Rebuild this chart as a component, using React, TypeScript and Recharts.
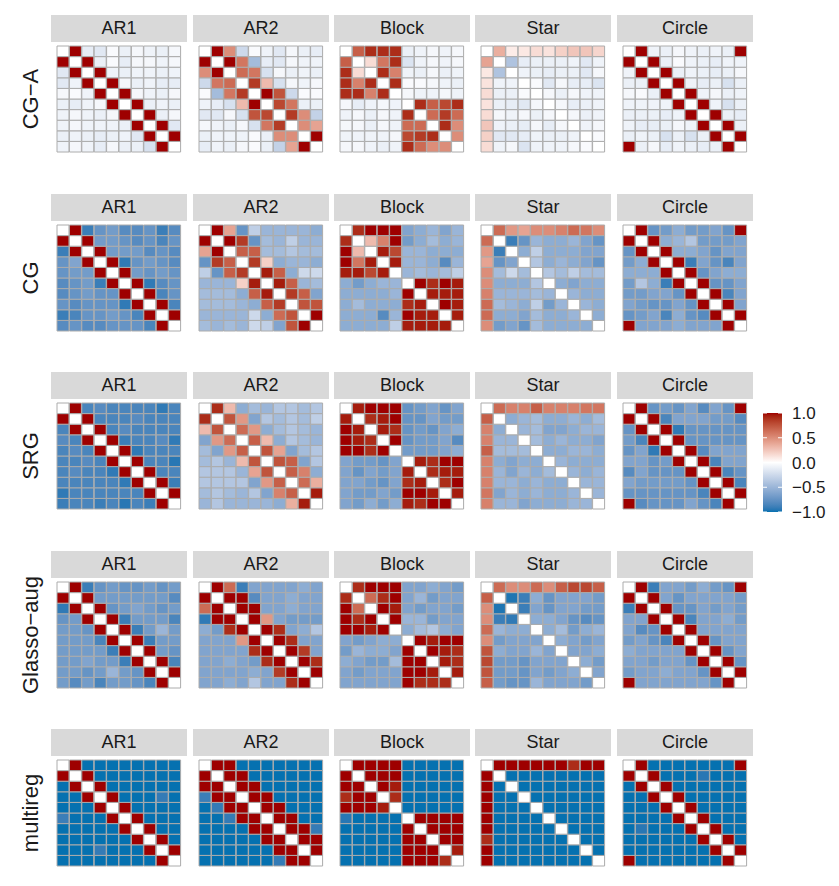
import React from "react";
import { BarChart, Bar, Cell, XAxis, YAxis, ReferenceLine } from "recharts";

// ---------- labels ----------
const methods = ["CG\u2212A", "CG", "SRG", "Glasso\u2212aug", "multireg"];
const structures = ["AR1", "AR2", "Block", "Star", "Circle"];
const cellCols = ["1", "2", "3", "4", "5", "6", "7", "8", "9", "10"];
const legendTicks = [1, 0.5, 0, -0.5, -1];

// ---------- CG-A ----------
const cgaAR1 = [
  [0, 1, -.12, -.15, -.03, -.1, -.05, -.08, -.1, -.05],
  [1, 0, 1, -.1, -.03, -.12, -.05, -.05, -.08, -.05],
  [-.15, 1, 0, 1, -.08, -.1, -.08, -.08, -.1, -.08],
  [-.15, -.08, 1, 0, 1, -.05, -.1, -.08, -.12, -.12],
  [-.05, -.03, -.08, 1, 0, 1, -.05, -.08, -.1, -.05],
  [-.1, -.12, -.08, -.05, 1, 0, 1, -.1, -.08, -.1],
  [-.08, -.05, -.08, -.1, -.05, 1, 0, 1, -.1, -.05],
  [-.08, -.05, -.08, -.08, -.08, -.1, 1, 0, 1, -.15],
  [-.1, -.08, -.1, -.12, -.1, -.08, -.15, 1, 0, 1],
  [-.08, -.05, -.08, -.12, -.05, -.1, -.1, -.2, 1, 0],
];
const cgaAR2 = [
  [0, 1, .5, -.25, -.03, -.08, -.15, -.05, -.1, -.12],
  [1, 0, 1, .6, -.45, -.12, -.15, -.05, -.08, -.08],
  [.5, 1, 0, .65, .6, -.2, -.05, -.1, -.08, -.1],
  [-.25, .6, .65, 0, .85, .3, -.2, -.05, -.08, -.05],
  [-.03, -.45, .6, .85, 0, 1, .75, -.25, -.03, -.03],
  [-.08, -.12, -.2, .3, 1, 0, .8, .6, -.1, -.1],
  [-.15, -.15, -.05, -.2, .75, .8, 0, .85, .5, -.3],
  [-.05, -.08, -.1, -.05, -.2, .6, .85, 0, .5, .4],
  [-.1, -.08, -.08, -.08, -.03, -.1, .5, .5, 0, 1],
  [-.12, -.08, -.1, -.05, -.03, -.1, -.3, .4, 1, 0],
];
const cgaBlock = [
  [0, .7, .9, .9, .9, -.1, -.08, -.05, -.08, -.05],
  [.7, 0, .15, .6, .9, -.18, -.08, -.05, -.08, -.05],
  [.9, .15, 0, .9, .55, -.08, -.1, -.05, -.1, -.08],
  [.9, .55, .9, 0, .9, -.03, -.03, -.05, -.08, -.1],
  [.9, .9, .55, .9, 0, -.05, -.08, -.08, -.05, -.08],
  [-.05, -.12, -.08, -.05, -.08, 0, .9, .7, .8, .9],
  [-.08, -.05, -.1, -.05, -.08, .9, 0, .65, .85, .65],
  [-.05, -.05, -.1, -.05, -.08, .65, .65, 0, .9, .5],
  [-.08, -.08, -.08, -.08, -.05, .8, .85, .9, 0, .5],
  [-.05, -.05, -.08, -.1, -.08, .9, .65, .5, .5, 0],
];
const cgaStar = [
  [0, .35, .08, .1, .15, .12, .2, .25, .25, .18],
  [.4, 0, -.4, -.12, -.1, -.1, -.1, -.08, -.15, -.08],
  [.1, -.4, 0, -.08, -.1, -.12, -.1, -.1, -.15, -.05],
  [.12, -.08, -.08, 0, -.03, -.15, -.05, -.12, -.12, -.18],
  [.15, -.1, -.1, -.03, 0, -.05, -.1, -.05, -.08, -.08],
  [.12, -.1, -.12, -.15, -.05, 0, -.05, -.12, -.1, -.08],
  [.15, -.05, -.08, -.05, -.1, -.05, 0, -.05, -.1, -.08],
  [.25, -.08, -.1, -.12, -.05, -.12, -.05, 0, -.08, -.05],
  [.2, -.15, -.15, -.12, -.08, -.1, -.1, -.08, 0, -.03],
  [.15, -.08, -.05, -.18, -.08, -.08, -.08, -.05, -.03, 0],
];
const cgaCircle = [
  [0, 1, -.08, -.1, -.05, -.08, -.1, -.08, -.1, 1],
  [1, 0, 1, -.1, -.03, -.08, -.1, -.12, -.08, -.08],
  [-.08, 1, 0, 1, -.1, -.08, -.1, -.12, -.1, -.05],
  [-.1, -.1, 1, 0, 1, -.08, -.12, -.1, -.2, -.1],
  [-.05, -.03, -.1, 1, 0, 1, -.08, -.05, -.1, -.08],
  [-.08, -.08, -.08, -.08, 1, 0, 1, -.08, -.2, -.1],
  [-.1, -.1, -.1, -.12, -.08, 1, 0, 1, -.1, -.12],
  [-.08, -.12, -.12, -.1, -.05, -.08, 1, 0, 1, -.1],
  [-.1, -.08, -.1, -.2, -.1, -.2, -.1, 1, 0, 1],
  [1, -.1, -.05, -.12, -.08, -.1, -.12, -.1, 1, 0],
];

// ---------- CG ----------
const cgAR1 = [
  [0, 1, -.9, -.74, -.68, -.8, -.8, -.74, -.9, -.8],
  [1, 0, 1, -.68, -.68, -.74, -.8, -.74, -.85, -.74],
  [-.9, 1, 0, 1, -.68, -.68, -.68, -.8, -.74, -.8],
  [-.74, -.62, 1, 0, 1, -.93, -.74, -.68, -.74, -.8],
  [-.74, -.68, -.68, 1, 0, 1, -.68, -.74, -.68, -.74],
  [-.8, -.74, -.68, -.9, 1, 0, 1, -.93, -.8, -.74],
  [-.8, -.74, -.68, -.74, -.74, 1, 0, 1, -.85, -.74],
  [-.74, -.8, -.74, -.74, -.74, -.93, 1, 0, 1, -.85],
  [-.9, -.85, -.74, -.74, -.68, -.74, -.85, 1, 0, 1],
  [-.8, -.74, -.8, -.8, -.74, -.74, -.74, -.85, 1, 0],
];
const cgAR2 = [
  [0, 1, .4, -.74, -.32, -.5, -.5, -.5, -.5, -.56],
  [1, 0, 1, .85, -.74, -.45, -.5, -.32, -.5, -.5],
  [.4, 1, 0, .7, .7, -.45, -.45, -.38, -.45, -.45],
  [-.74, .85, .7, 0, .85, .2, -.56, -.5, -.5, -.56],
  [-.32, -.74, .7, .85, 0, .95, .7, -.56, -.25, -.25],
  [-.5, -.5, -.5, .2, .95, 0, .95, .7, -.5, -.45],
  [-.45, -.45, -.45, -.56, .7, .95, 0, .85, .7, -.62],
  [-.45, -.45, -.45, -.5, -.56, .7, .85, 0, .75, .75],
  [-.5, -.5, -.5, -.5, -.25, -.56, .65, .75, 0, 1],
  [-.45, -.5, -.45, -.5, -.25, -.32, -.62, .75, 1, 0],
];
const cgBlock = [
  [0, .9, 1, 1, 1, -.62, -.56, -.5, -.62, -.5],
  [.9, 0, .3, .55, 1, -.68, -.56, -.45, -.56, -.5],
  [1, .3, 0, .95, .8, -.5, -.5, -.56, -.56, -.56],
  [1, .6, .95, 0, .95, -.5, -.5, -.56, -.8, -.5],
  [.95, .95, .8, .95, 0, -.5, -.45, -.5, -.45, -.32],
  [-.56, -.68, -.56, -.5, -.5, 0, 1, .9, 1, .95],
  [-.56, -.56, -.56, -.56, -.5, 1, 0, .95, .95, .95],
  [-.56, -.45, -.56, -.56, -.56, .9, .95, 0, 1, .95],
  [-.56, -.56, -.56, -.8, -.5, 1, .95, .95, 0, .95],
  [-.56, -.56, -.56, -.56, -.32, .95, .95, .95, .95, 0],
];
const cgStar = [
  [0, .65, .45, .4, .5, .5, .55, .65, .6, .5],
  [.65, 0, -.9, -.74, -.5, -.56, -.56, -.5, -.62, -.74],
  [.45, -.9, 0, -.56, -.32, -.56, -.56, -.56, -.62, -.62],
  [.4, -.74, -.62, 0, -.38, -.56, -.5, -.56, -.62, -.74],
  [.5, -.45, -.25, -.45, 0, -.38, -.45, -.32, -.45, -.45],
  [.5, -.56, -.56, -.56, -.38, 0, -.56, -.62, -.56, -.56],
  [.55, -.5, -.5, -.5, -.45, -.5, 0, -.5, -.56, -.56],
  [.65, -.45, -.5, -.56, -.32, -.68, -.5, 0, -.5, -.56],
  [.65, -.56, -.56, -.62, -.45, -.56, -.56, -.5, 0, -.56],
  [.5, -.68, -.62, -.74, -.45, -.56, -.56, -.56, -.56, 0],
];
const cgCircle = [
  [0, 1, -.74, -.68, -.56, -.68, -.68, -.62, -.74, 1],
  [1, 0, 1, -.56, -.5, -.38, -.68, -.68, -.68, -.62],
  [-.74, 1, 0, 1, -.56, -.56, -.62, -.74, -.62, -.62],
  [-.68, -.56, 1, 0, 1, -.9, -.62, -.74, -.85, -.62],
  [-.56, -.56, -.56, 1, 0, 1, -.74, -.62, -.56, -.56],
  [-.68, -.38, -.56, -.9, 1, 0, 1, -.74, -.74, -.62],
  [-.68, -.68, -.62, -.62, -.74, 1, 0, 1, -.85, -.62],
  [-.62, -.68, -.74, -.74, -.62, -.74, 1, 0, 1, -.62],
  [-.74, -.68, -.62, -.85, -.56, -.74, -.8, 1, 0, 1],
  [1, -.62, -.62, -.62, -.56, -.62, -.62, -.62, 1, 0],
];

// ---------- SRG ----------
const srgAR1 = [
  [0, 1, -.85, -.8, -.85, -.85, -.85, -.85, -.93, -.85],
  [1, 0, 1, -.85, -.85, -.85, -.8, -.85, -.85, -.85],
  [-.85, 1, 0, 1, -.85, -.8, -.85, -.85, -.85, -.85],
  [-.8, -.85, 1, 0, 1, -.9, -.85, -.85, -.8, -.93],
  [-.85, -.8, -.85, 1, 0, 1, -.93, -.85, -.85, -.85],
  [-.85, -.85, -.8, -.85, 1, 0, 1, -.85, -.85, -.95],
  [-.85, -.8, -.85, -.85, -.93, 1, 0, 1, -.85, -.85],
  [-.85, -.85, -.85, -.85, -.85, -.93, 1, 0, 1, -.9],
  [-.93, -.85, -.85, -.85, -.85, -.85, -.85, 1, 0, 1],
  [-.9, -.85, -.85, -.9, -.85, -.95, -.85, -.9, 1, 0],
];
const srgAR2 = [
  [0, .9, .3, -.56, -.45, -.5, -.38, -.38, -.45, -.38],
  [.9, 0, .75, .45, -.62, -.38, -.45, -.38, -.45, -.32],
  [.3, .75, 0, .65, .45, -.56, -.45, -.38, -.45, -.5],
  [-.62, .45, .65, 0, .7, .3, -.56, -.38, -.45, -.5],
  [-.45, -.62, .45, .7, 0, .75, .4, -.62, -.45, -.38],
  [-.45, -.38, -.5, .3, .75, 0, .75, .7, -.62, -.38],
  [-.38, -.38, -.38, -.5, .4, .75, 0, .7, .55, -.56],
  [-.38, -.38, -.38, -.38, -.62, .45, .7, 0, .65, .35],
  [-.45, -.38, -.45, -.5, -.38, -.62, .55, .7, 0, .95],
  [-.5, -.38, -.5, -.5, -.5, -.5, -.56, .35, .95, 0],
];
const srgBlock = [
  [0, .95, 1, 1, 1, -.74, -.68, -.62, -.74, -.62],
  [.95, 0, .9, .95, 1, -.74, -.74, -.62, -.68, -.68],
  [1, .95, 0, .95, .9, -.74, -.68, -.74, -.62, -.56],
  [1, .95, .9, 0, 1, -.74, -.68, -.68, -.62, -.8],
  [1, 1, .9, 1, 0, -.68, -.68, -.68, -.62, -.56],
  [-.62, -.68, -.68, -.74, -.62, 0, .95, .9, 1, 1],
  [-.62, -.74, -.62, -.68, -.62, .95, 0, .9, .95, .95],
  [-.62, -.62, -.68, -.74, -.62, .9, .95, 0, .9, 1],
  [-.62, -.68, -.68, -.62, -.68, 1, 1, .95, 0, .95],
  [-.62, -.68, -.56, -.68, -.56, .95, .9, 1, 1, 0],
];
const srgStar = [
  [0, .65, .55, .55, .7, .55, .55, .55, .6, .6],
  [.7, 0, -.56, -.5, -.45, -.56, -.56, -.5, -.56, -.45],
  [.55, -.56, 0, -.5, -.45, -.62, -.62, -.56, -.5, -.5],
  [.55, -.5, -.5, 0, -.45, -.56, -.5, -.56, -.56, -.62],
  [.7, -.45, -.45, -.45, 0, -.56, -.56, -.5, -.5, -.56],
  [.55, -.56, -.62, -.56, -.56, 0, -.5, -.56, -.56, -.56],
  [.55, -.5, -.62, -.5, -.56, -.45, 0, -.5, -.56, -.5],
  [.55, -.5, -.5, -.56, -.5, -.56, -.56, 0, -.5, -.5],
  [.6, -.62, -.5, -.56, -.5, -.56, -.56, -.5, 0, -.5],
  [.55, -.5, -.5, -.62, -.56, -.56, -.56, -.5, -.5, 0],
];
const srgCircle = [
  [0, 1, -.74, -.68, -.74, -.62, -.8, -.62, -.74, 1],
  [1, 0, 1, -.85, -.62, -.62, -.62, -.68, -.68, -.8],
  [-.74, 1, 0, 1, -.93, -.74, -.74, -.74, -.74, -.74],
  [-.68, -.85, 1, 0, 1, -.74, -.74, -.74, -.74, -.74],
  [-.74, -.62, -.93, 1, 0, 1, -.8, -.62, -.62, -.62],
  [-.62, -.62, -.74, -.68, 1, 0, 1, -.85, -.62, -.62],
  [-.8, -.62, -.74, -.74, -.74, 1, 0, 1, -.85, -.74],
  [-.62, -.68, -.68, -.68, -.68, -.74, 1, 0, 1, -.85],
  [-.74, -.74, -.74, -.74, -.74, -.74, -.85, 1, 0, 1],
  [1, -.8, -.74, -.74, -.74, -.62, -.74, -.85, 1, 0],
];

// ---------- Glasso-aug ----------
const glaAR1 = [
  [0, 1, -.9, -.74, -.68, -.74, -.74, -.68, -.74, -.68],
  [1, 0, 1, -.68, -.68, -.68, -.68, -.68, -.68, -.8],
  [-.93, 1, 0, 1, -.74, -.68, -.62, -.68, -.74, -.68],
  [-.74, -.68, 1, 0, 1, -.9, -.68, -.68, -.68, -.85],
  [-.68, -.68, -.74, 1, 0, 1, -.9, -.68, -.5, -.68],
  [-.68, -.68, -.68, -.85, 1, 0, 1, -.9, -.68, -.68],
  [-.68, -.68, -.68, -.68, -.9, 1, 0, 1, -.68, -.74],
  [-.68, -.68, -.62, -.68, -.68, -.9, 1, 0, 1, -.85],
  [-.68, -.68, -.74, -.68, -.5, -.68, -.74, 1, 0, 1],
  [-.68, -.8, -.68, -.85, -.68, -.68, -.74, -.85, 1, 0],
];
const glaAR2 = [
  [0, 1, .65, -.9, -.62, -.62, -.62, -.62, -.56, -.62],
  [1, 0, 1, 1, -.8, -.62, -.62, -.56, -.62, -.62],
  [.65, 1, 0, 1, 1, -.62, -.62, -.56, -.62, -.62],
  [-.93, 1, 1, 0, 1, .45, -.62, -.68, -.68, -.68],
  [-.56, -.68, .9, 1, 0, 1, .9, -.62, -.56, -.38],
  [-.62, -.62, -.62, .45, 1, 0, 1, .9, -.62, -.62],
  [-.62, -.62, -.62, -.62, .9, 1, 0, 1, .85, -.62],
  [-.62, -.62, -.56, -.62, -.68, .9, 1, 0, 1, .9],
  [-.62, -.62, -.62, -.62, -.56, -.62, .85, 1, 0, 1],
  [-.62, -.62, -.56, -.62, -.38, -.62, -.62, .9, 1, 0],
];
const glaBlock = [
  [0, .9, 1, 1, 1, -.62, -.62, -.56, -.62, -.68],
  [.9, 0, .65, .9, 1, -.62, -.5, -.68, -.62, -.62],
  [1, .65, 0, 1, .95, -.62, -.68, -.62, -.62, -.68],
  [1, .9, 1, 0, 1, -.5, -.5, -.68, -.62, -.62],
  [1, 1, .95, 1, 0, -.56, -.45, -.38, -.56, -.62],
  [-.62, -.68, -.62, -.56, -.56, 0, 1, .95, 1, 1],
  [-.68, -.5, -.56, -.56, -.62, 1, 0, 1, .95, .9],
  [-.56, -.62, -.68, -.68, -.45, 1, 1, 0, .95, .9],
  [-.62, -.68, -.62, -.62, -.62, 1, 1, .95, 0, .95],
  [-.62, -.62, -.62, -.62, -.62, 1, .9, .9, .9, 0],
];
const glaStar = [
  [0, .65, .5, .5, .65, .5, .7, .8, .8, .7],
  [.7, 0, -.97, -.9, -.56, -.74, -.62, -.62, -.62, -.68],
  [.5, -.97, 0, -.9, -.62, -.74, -.62, -.62, -.68, -.68],
  [.5, -.9, -.93, 0, -.56, -.56, -.62, -.74, -.8, -.74],
  [.65, -.5, -.56, -.56, 0, -.56, -.45, -.68, -.56, -.5],
  [.5, -.68, -.62, -.62, -.62, 0, -.56, -.62, -.68, -.62],
  [.75, -.56, -.62, -.62, -.5, -.62, 0, -.62, -.62, -.56],
  [.8, -.68, -.68, -.74, -.62, -.62, -.62, 0, -.56, -.68],
  [.75, -.68, -.68, -.74, -.62, -.68, -.62, -.56, 0, -.62],
  [.7, -.68, -.74, -.74, -.5, -.62, -.62, -.62, -.68, 0],
];
const glaCircle = [
  [0, 1, -.9, -.62, -.62, -.68, -.56, -.68, -.74, 1],
  [1, 0, 1, -.62, -.74, -.62, -.62, -.62, -.62, -.68],
  [-.9, 1, 0, 1, -.74, -.74, -.62, -.68, -.62, -.68],
  [-.62, -.62, 1, 0, 1, -.85, -.62, -.62, -.56, -.68],
  [-.62, -.8, -.74, 1, 0, 1, -.62, -.62, -.62, -.62],
  [-.68, -.62, -.74, -.85, 1, 0, 1, -.74, -.62, -.62],
  [-.56, -.62, -.62, -.62, -.62, 1, 0, 1, -.74, -.62],
  [-.62, -.62, -.68, -.62, -.62, -.74, 1, 0, 1, -.74],
  [-.68, -.62, -.62, -.56, -.62, -.62, -.74, 1, 0, 1],
  [1, -.62, -.62, -.62, -.62, -.62, -.62, -.74, 1, 0],
];

// ---------- multireg ----------
const mrAR1 = [
  [0, 1, -1, -1, -1, -1, -1, -1, -1, -1],
  [1, 0, 1, -1, -1, -1, -1, -1, -1, -1],
  [-1, 1, 0, 1, -1, -1, -1, -1, -1, -1],
  [-1, -1, 1, 0, 1, -1, -1, -1, -.92, -1],
  [-1, -1, -1, 1, 0, 1, -1, -1, -1, -1],
  [-.9, -1, -1, -1, 1, 0, 1, -1, -1, -1],
  [-1, -1, -1, -1, -1, 1, 0, 1, -1, -1],
  [-1, -1, -1, -1, -1, -1, 1, 0, 1, -1],
  [-1, -1, -1, -.92, -1, -1, -1, 1, 0, 1],
  [-1, -1, -1, -1, -1, -1, -1, -1, 1, 0],
];
const mrAR2 = [
  [0, 1, 1, -1, -1, -1, -1, -1, -1, -1],
  [1, 0, 1, 1, -1, -1, -1, -1, -1, -1],
  [1, 1, 0, 1, 1, -1, -1, -1, -1, -1],
  [-.9, 1, 1, 0, 1, 1, -1, -1, -1, -1],
  [-1, -.92, 1, 1, 0, 1, 1, -1, -1, -1],
  [-1, -1, -.92, 1, 1, 0, 1, 1, -1, -1],
  [-1, -1, -1, -1, 1, 1, 0, 1, 1, -.92],
  [-1, -1, -1, -1, -1, 1, 1, 0, 1, 1],
  [-1, -1, -1, -1, -1, -1, 1, 1, 0, 1],
  [-1, -1, -1, -1, -1, -1, -.92, 1, 1, 0],
];
const mrBlock = [
  [0, 1, 1, 1, 1, -1, -1, -1, -1, -1],
  [1, 0, 1, 1, 1, -1, -1, -1, -1, -1],
  [1, 1, 0, 1, .95, -1, -1, -1, -1, -1],
  [.9, 1, 1, 0, .9, -1, -1, -1, -1, -1],
  [1, 1, 1, .95, 0, -1, -1, -1, -1, -1],
  [-.95, -1, -1, -1, -1, 0, 1, 1, 1, 1],
  [-1, -1, -1, -1, -1, 1, 0, 1, 1, 1],
  [-1, -1, -1, -1, -1, 1, 1, 0, 1, 1],
  [-1, -1, -1, -1, -1, 1, 1, 1, 0, .95],
  [-1, -1, -1, -1, -1, 1, 1, 1, .9, 0],
];
const mrStar = [
  [0, 1, 1, 1, 1, 1, 1, .9, 1, 1],
  [1, 0, -1, -1, -1, -1, -1, -1, -1, -1],
  [1, -1, 0, -1, -1, -1, -1, -1, -1, -1],
  [1, -1, -1, 0, -1, -1, -1, -1, -1, -1],
  [1, -1, -1, -1, 0, -1, -1, -1, -1, -1],
  [1, -1, -1, -1, -1, 0, -1, -1, -1, -1],
  [1, -1, -1, -1, -1, -1, 0, -1, -1, -1],
  [.9, -1, -1, -1, -1, -1, -1, 0, -1, -1],
  [1, -1, -1, -1, -1, -1, -1, -1, 0, -1],
  [1, -1, -1, -1, -1, -1, -1, -1, -1, 0],
];
const mrCircle = [
  [0, 1, -1, -1, -1, -1, -1, -1, -1, 1],
  [1, 0, 1, -1, -1, -1, -.95, -1, -1, -1],
  [-1, 1, 0, 1, -1, -1, -1, -1, -1, -1],
  [-1, -1, 1, 0, 1, -1, -1, -1, -1, -1],
  [-1, -1, -1, 1, 0, 1, -1, -1, -1, -1],
  [-1, -1, -1, -1, 1, 0, 1, -1, -1, -1],
  [-1, -.95, -1, -1, -1, 1, 0, 1, -1, -1],
  [-1, -1, -1, -1, -1, -1, 1, 0, 1, -1],
  [-1, -1, -1, -1, -1, -1, -1, 1, 0, 1],
  [1, -1, -1, -1, -1, -1, -1, -1, 1, 0],
];

const matrixGrid = [
  [cgaAR1, cgaAR2, cgaBlock, cgaStar, cgaCircle],
  [cgAR1, cgAR2, cgBlock, cgStar, cgCircle],
  [srgAR1, srgAR2, srgBlock, srgStar, srgCircle],
  [glaAR1, glaAR2, glaBlock, glaStar, glaCircle],
  [mrAR1, mrAR2, mrBlock, mrStar, mrCircle],
];

// ---------- colour scale (Lab interpolation, like ggplot gradient2) ----------
const LOW_HEX = "#0571B0";
const MID_HEX = "#FFFFFF";
const HIGH_HEX = "#9E0000";

function hexToRgb(h: string) {
  const n = parseInt(h.slice(1), 16);
  return [(n >> 16) & 255, (n >> 8) & 255, n & 255];
}
function lin(c: number) {
  c /= 255;
  return c <= 0.04045 ? c / 12.92 : Math.pow((c + 0.055) / 1.055, 2.4);
}
function unlin(c: number) {
  const v = c <= 0.0031308 ? 12.92 * c : 1.055 * Math.pow(c, 1 / 2.4) - 0.055;
  return Math.round(Math.max(0, Math.min(1, v)) * 255);
}
function rgbToLab(rgb: number[]) {
  const [r, g, b] = rgb.map(lin);
  const X = (0.4124 * r + 0.3576 * g + 0.1805 * b) / 0.95047;
  const Y = 0.2126 * r + 0.7152 * g + 0.0722 * b;
  const Z = (0.0193 * r + 0.1192 * g + 0.9505 * b) / 1.08883;
  const f = (t: number) => (t > 0.008856 ? Math.cbrt(t) : 7.787 * t + 16 / 116);
  const fx = f(X), fy = f(Y), fz = f(Z);
  return [116 * fy - 16, 500 * (fx - fy), 200 * (fy - fz)];
}
function labToRgb(lab: number[]) {
  const [L, a, b] = lab;
  const fy = (L + 16) / 116;
  const fx = fy + a / 500;
  const fz = fy - b / 200;
  const fi = (t: number) => (t * t * t > 0.008856 ? t * t * t : (t - 16 / 116) / 7.787);
  const X = fi(fx) * 0.95047, Y = fi(fy), Z = fi(fz) * 1.08883;
  const r = 3.2406 * X - 1.5372 * Y - 0.4986 * Z;
  const g = -0.9689 * X + 1.8758 * Y + 0.0415 * Z;
  const bb = 0.0557 * X - 0.204 * Y + 1.057 * Z;
  return [unlin(r), unlin(g), unlin(bb)];
}
const LOW_LAB = rgbToLab(hexToRgb(LOW_HEX));
const MID_LAB = rgbToLab(hexToRgb(MID_HEX));
const HIGH_LAB = rgbToLab(hexToRgb(HIGH_HEX));

function fillFor(v: number) {
  const t = Math.max(-1, Math.min(1, v));
  const end = t < 0 ? LOW_LAB : HIGH_LAB;
  const a = Math.abs(t);
  const lab = MID_LAB.map((m, i) => m + (end[i] - m) * a);
  const [r, g, b] = labToRgb(lab);
  return `rgb(${r},${g},${b})`;
}

// ---------- layout ----------
const FONT = "'Liberation Sans', Arial, Helvetica, sans-serif";
const GRID = "#ACACAC";
const STRIP_X = [51, 193, 334, 475, 617];
const STRIP_Y = [15, 194, 372, 551, 729];
const STRIP_W = 136;
const STRIP_H = 27;
const HEAT_DX = 6;
const HEAT_DY = 31;
const HEAT_W = 124;
const HEAT_H = 106;

const rowIdx = cellCols.map((_, i) => i);
const stackOrder = [...rowIdx].reverse();

function Panel({ matrix }: { matrix: number[][] }) {
  const data = cellCols.map((c) => {
    const o: Record<string, any> = { col: c };
    rowIdx.forEach((r) => (o["r" + r] = 1));
    return o;
  });
  return (
    <BarChart
      width={HEAT_W + 2}
      height={HEAT_H + 2}
      data={data}
      margin={{ top: 1, right: 1, bottom: 1, left: 1 }}
      barCategoryGap={0}
      barGap={0}
    >
      <XAxis dataKey="col" hide />
      <YAxis hide domain={[0, 10]} />
      {stackOrder.map((r) => (
        <Bar
          key={r}
          dataKey={"r" + r}
          stackId="s"
          isAnimationActive={false}
          stroke={GRID}
          strokeWidth={1}
        >
          {data.map((_, j) => (
            <Cell key={j} fill={fillFor(matrix[r][j])} />
          ))}
        </Bar>
      ))}
    </BarChart>
  );
}

function fmtTick(v: number) {
  return v.toFixed(1).replace("-", "\u2212");
}

function Legend() {
  const stops = [];
  for (let i = 0; i <= 40; i++) {
    const v = 1 - i / 20;
    stops.push(<stop key={i} offset={`${(i / 40) * 100}%`} stopColor={fillFor(v)} />);
  }
  return (
    <BarChart
      width={19 + 60}
      height={99 + 20}
      data={[{ k: "bar", range: [-1, 1] }]}
      margin={{ top: 10, right: 0, bottom: 10, left: 0 }}
      barCategoryGap={0}
    >
      <defs>
        <linearGradient id="legendGrad" x1="0" y1="0" x2="0" y2="1">
          {stops}
        </linearGradient>
      </defs>
      <XAxis dataKey="k" hide />
      <YAxis
        orientation="right"
        domain={[-1, 1]}
        ticks={legendTicks}
        interval={0}
        width={60}
        axisLine={false}
        tickLine={false}
        tickSize={8}
        tickMargin={2}
        tick={{ fontSize: 17, fill: "#1A1A1A", fontFamily: FONT, textAnchor: "start" }}
        tickFormatter={fmtTick}
      />
      <Bar dataKey="range" fill="url(#legendGrad)" isAnimationActive={false} />
      {legendTicks.map((t) => (
        <ReferenceLine key={t} y={t} stroke="#FFFFFF" strokeWidth={1} strokeDasharray="4 11" />
      ))}
    </BarChart>
  );
}

export default function App() {
  return (
    <div
      style={{
        position: "absolute",
        left: 0,
        top: 0,
        width: 839,
        height: 886,
        background: "#FFFFFF",
        fontFamily: FONT,
        overflow: "hidden",
      }}
    >
      {methods.map((m, ri) => (
        <React.Fragment key={m}>
          <div
            style={{
              position: "absolute",
              left: 31,
              top: STRIP_Y[ri] + HEAT_DY + HEAT_H / 2,
              transform: "translate(-50%, -50%) rotate(-90deg)",
              fontSize: 22,
              color: "#1A1A1A",
              whiteSpace: "nowrap",
              lineHeight: 1,
            }}
          >
            {m}
          </div>
          {structures.map((s, ci) => (
            <React.Fragment key={s}>
              <div
                style={{
                  position: "absolute",
                  left: STRIP_X[ci],
                  top: STRIP_Y[ri],
                  width: STRIP_W,
                  height: STRIP_H,
                  background: "#D9D9D9",
                  color: "#1A1A1A",
                  fontSize: 18,
                  lineHeight: STRIP_H + "px",
                  textAlign: "center",
                }}
              >
                {s}
              </div>
              <div
                style={{
                  position: "absolute",
                  left: STRIP_X[ci] + HEAT_DX - 1,
                  top: STRIP_Y[ri] + HEAT_DY - 1,
                }}
              >
                <Panel matrix={matrixGrid[ri][ci]} />
              </div>
            </React.Fragment>
          ))}
        </React.Fragment>
      ))}
      <div style={{ position: "absolute", left: 763, top: 403 }}>
        <Legend />
      </div>
    </div>
  );
}
